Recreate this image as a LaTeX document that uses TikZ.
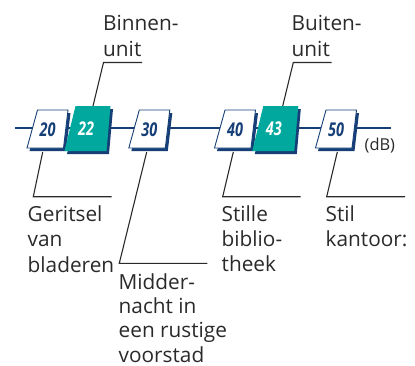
\documentclass[tikz,border=0pt]{standalone}
\usepackage{fontspec}
\setmainfont{Open Sans}
\definecolor{navy}{HTML}{163F77}
\definecolor{tealbox}{HTML}{00A89D}
\definecolor{ink}{HTML}{2A2A2A}
\tikzset{
  num/.style={font=\fontsize{19}{19}\selectfont\bfseries\itshape, inner sep=0pt, anchor=center},
  lbl/.style={font=\fontsize{20.8}{25.3}\selectfont, text=ink, align=left, inner sep=0pt, anchor=base west},
  leader/.style={draw=ink, line width=1.1pt},
  mainline/.style={draw=navy, line width=2pt}
}
\newcommand\mkwbox[3]{%
  \fill[navy] (#1+2.5,113) -- (#1+33,113) -- (#1+28.5,151) -- (#1-8,151) -- cycle;
  \filldraw[fill=white,draw=navy,line width=0.9pt] (#1,110) -- (#1+30.5,110) -- (#1+26,148) -- (#1-10.5,148) -- cycle;
  \node[num,text=navy] (#3) at (#1+10,129.5) {\scalebox{0.76}[1]{#2}};
}
\newcommand\mktbox[3]{%
  \fill[navy] (#1+2.5,109) -- (#1+37.5,109) -- (#1+33.5,154) -- (#1-8.5,154) -- cycle;
  \fill[tealbox] (#1,106) -- (#1+35,106) -- (#1+31,151) -- (#1-11,151) -- cycle;
  \node[num,text=white] (#3) at (#1+10.5,129) {\scalebox{0.76}[1]{#2}};
}
\begin{document}
\begin{tikzpicture}[x=1pt,y=-1pt]
\useasboundingbox (0,0) rectangle (415,365);
% main scale line
\coordinate (ls) at (15,128);
\coordinate (le) at (391,128);
\draw[mainline] (ls) -- (le);
% boxes
\mkwbox{37.5}{20}{b20}
\mktbox{75.5}{22}{b22}
\mkwbox{139.3}{30}{b30}
\mkwbox{225}{40}{b40}
\mktbox{263.3}{43}{b43}
\mkwbox{326}{50}{b50}
\node[font=\fontsize{16.4}{18}\selectfont, text=ink, inner sep=0pt, anchor=base west] (db) at (364.5,150) {(dB)};
% top labels (anchor = baseline of last line)
\node[lbl] (tbin) at (103,56) {Binnen-\\unit};
\node[lbl] (tbui) at (291.5,56) {Buiten-\\unit};
\coordinate (s22) at (93,106); \coordinate (k22) at (103.5,62.5); \coordinate (e22) at (142,62.5);
\coordinate (s43) at (282.7,106); \coordinate (k43) at (293.3,62.5); \coordinate (e43) at (331.7,62.5);
\draw[leader] (s22) -- (k22) -- (e22);
\draw[leader] (s43) -- (k43) -- (e43);
% bottom labels
\node[lbl] (tger) at (27.5,272) {Geritsel\\van\\bladeren};
\node[lbl, font=\fontsize{20.8}{24.2}\selectfont] (tmid) at (118.5,362) {Midder-\\nacht in\\een rustige\\voorstad};
\node[lbl] (tsti) at (221.5,271.8) {Stille\\biblio-\\theek};
\node[lbl] (tkan) at (325.5,246.5) {Stil\\kantoor:};
\coordinate (s20) at (42.7,152); \coordinate (k20) at (33.3,196.7); \coordinate (e20) at (111.7,196.7);
\coordinate (s30) at (146.7,152); \coordinate (k30) at (119.3,263.3); \coordinate (e30) at (207.3,263.3);
\coordinate (s40) at (233.3,152); \coordinate (k40) at (222.7,196.7); \coordinate (e40) at (300.7,196.7);
\coordinate (s50) at (337.3,152); \coordinate (k50) at (326.7,196.7); \coordinate (e50) at (405,196.7);
\draw[leader] (s20) -- (k20) -- (e20);
\draw[leader] (s30) -- (k30) -- (e30);
\draw[leader] (s40) -- (k40) -- (e40);
\draw[leader] (s50) -- (k50) -- (e50);
\end{tikzpicture}
\end{document}
